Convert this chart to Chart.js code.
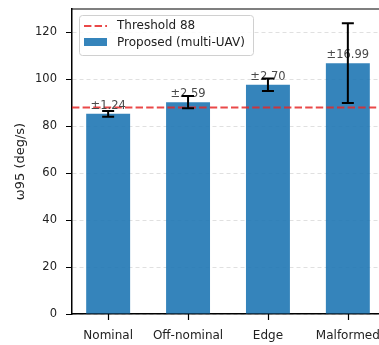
<!DOCTYPE html>
<html>
<head>
<meta charset="utf-8">
<script src="https://cdn.jsdelivr.net/npm/chart.js@4/dist/chart.umd.min.js"></script>
<style>
    html, body { margin: 0; padding: 0; background: #fff; overflow: hidden; }
    #wrap { position: relative; width: 392px; height: 345px; }
</style>
</head>
<body>
<div id="wrap"><canvas id="chart"></canvas></div>
<script>
// ===== Data =====
const categories = ['Nominal', 'Off-nominal', 'Edge', 'Malformed'];
const means = [85.3, 90.3, 97.7, 106.9];
const errors = [1.24, 2.59, 2.70, 16.99];
const threshold = 88;
const yTicks = [0, 20, 40, 60, 80, 100, 120];

// ===== Colors =====
const colors = {
    bar: 'rgba(31,119,180,0.9)',
    threshold: 'rgba(230,40,40,0.85)',
    grid: 'rgba(0,0,0,0.12)',
    label: '#4a4a4a'
};
const FONT = "'DejaVu Sans', sans-serif";

// error bars + value labels, x tick marks, top spine and in-axes legend
const extrasPlugin = {
    id: 'extras',
    afterDatasetsDraw(chart) {
        const { ctx, scales: { x, y }, chartArea } = chart;
        ctx.save();

        // ± labels above the bars
        ctx.font = '11.5px ' + FONT;
        ctx.fillStyle = colors.label;
        ctx.textAlign = 'center';
        ctx.textBaseline = 'alphabetic';
        means.forEach((m, i) => {
            ctx.fillText('±' + errors[i].toFixed(2), x.getPixelForValue(i), y.getPixelForValue(m) - 5);
        });

        // error bars
        ctx.strokeStyle = '#000';
        ctx.lineWidth = 2;
        means.forEach((m, i) => {
            const cx = x.getPixelForValue(i);
            const top = y.getPixelForValue(m + errors[i]);
            const bot = y.getPixelForValue(m - errors[i]);
            ctx.beginPath();
            ctx.moveTo(cx, top); ctx.lineTo(cx, bot);
            ctx.moveTo(cx - 6, top); ctx.lineTo(cx + 6, top);
            ctx.moveTo(cx - 6, bot); ctx.lineTo(cx + 6, bot);
            ctx.stroke();
        });

        // x tick marks
        ctx.lineWidth = 1.2;
        ctx.beginPath();
        categories.forEach((c, i) => {
            const tx = Math.round(x.getPixelForValue(i)) + 0.5;
            ctx.moveTo(tx, chartArea.bottom);
            ctx.lineTo(tx, chartArea.bottom + 6);
        });
        ctx.stroke();

        // top spine
        ctx.beginPath();
        ctx.moveTo(chartArea.left, chartArea.top);
        ctx.lineTo(chartArea.right, chartArea.top);
        ctx.stroke();

        // legend box
        const lx = chartArea.left + 7, ly = chartArea.top + 6, lw = 174, lh = 40;
        ctx.fillStyle = 'rgba(255,255,255,0.85)';
        ctx.strokeStyle = '#d0d0d0';
        ctx.lineWidth = 1;
        ctx.beginPath();
        ctx.roundRect(lx + 0.5, ly + 0.5, lw, lh, 3);
        ctx.fill();
        ctx.stroke();

        ctx.strokeStyle = colors.threshold;
        ctx.lineWidth = 2;
        ctx.setLineDash([7.4, 3.2]);
        ctx.beginPath();
        ctx.moveTo(lx + 5, ly + 11);
        ctx.lineTo(lx + 28, ly + 11);
        ctx.stroke();
        ctx.setLineDash([]);

        ctx.fillStyle = colors.bar;
        ctx.fillRect(lx + 5, ly + 23, 23, 8);

        ctx.fillStyle = '#222';
        ctx.font = '12px ' + FONT;
        ctx.textAlign = 'left';
        ctx.textBaseline = 'middle';
        ctx.fillText('Threshold ' + threshold, lx + 38, ly + 11);
        ctx.fillText('Proposed (multi-UAV)', lx + 38, ly + 28);

        ctx.restore();
    }
};

new Chart(document.getElementById('chart'), {
    data: {
        datasets: [
            {
                type: 'line',
                label: 'Threshold ' + threshold,
                data: [{ x: -0.4525, y: threshold }, { x: 3.4525, y: threshold }],
                borderColor: colors.threshold,
                borderWidth: 2,
                borderDash: [7.4, 3.2],
                pointRadius: 0,
                order: 0
            },
            {
                type: 'bar',
                label: 'Proposed (multi-UAV)',
                data: means.map((m, i) => ({ x: i, y: m })),
                backgroundColor: colors.bar,
                barPercentage: 0.55,
                categoryPercentage: 1.0,
                order: 1
            }
        ]
    },
    options: {
        responsive: true,
        maintainAspectRatio: false,
        animation: false,
        layout: { padding: { top: 9, right: 8, left: 0, bottom: 0 } },
        plugins: {
            legend: { display: false },
            tooltip: { enabled: false }
        },
        scales: {
            x: {
                type: 'linear',
                offset: false,
                min: -0.4525,
                max: 3.4525,
                afterBuildTicks: (scale) => {
                    scale.ticks = categories.map((c, i) => ({ value: i }));
                },
                afterFit: (scale) => { scale.height = 31; },
                grid: { display: false },
                border: { display: true, color: '#000', width: 1.5 },
                ticks: {
                    font: { family: FONT, size: 12 },
                    color: '#222',
                    padding: 7,
                    maxRotation: 0,
                    autoSkip: false,
                    callback: (v) => categories[v] ?? ''
                }
            },
            y: {
                min: 0,
                max: 130,
                afterBuildTicks: (scale) => {
                    scale.ticks = yTicks.map(v => ({ value: v }));
                },
                afterFit: (scale) => {
                    scale.width = 72;
                    scale.paddingTop = 0;
                    scale.paddingBottom = 0;
                },
                grid: {
                    color: colors.grid,
                    tickBorderDash: [1, 0],
                    tickColor: '#000',
                    tickLength: 6,
                    tickWidth: 1.2
                },
                border: { display: true, color: '#000', width: 1.5, dash: [4, 3] },
                ticks: {
                    font: { family: FONT, size: 11.5 },
                    color: '#222',
                    padding: 9
                },
                title: {
                    display: true,
                    text: 'ω95 (deg/s)',
                    font: { family: FONT, size: 13 },
                    color: '#222',
                    padding: { top: 13, bottom: 0 }
                }
            }
        }
    },
    plugins: [extrasPlugin]
});
</script>
</body>
</html>
